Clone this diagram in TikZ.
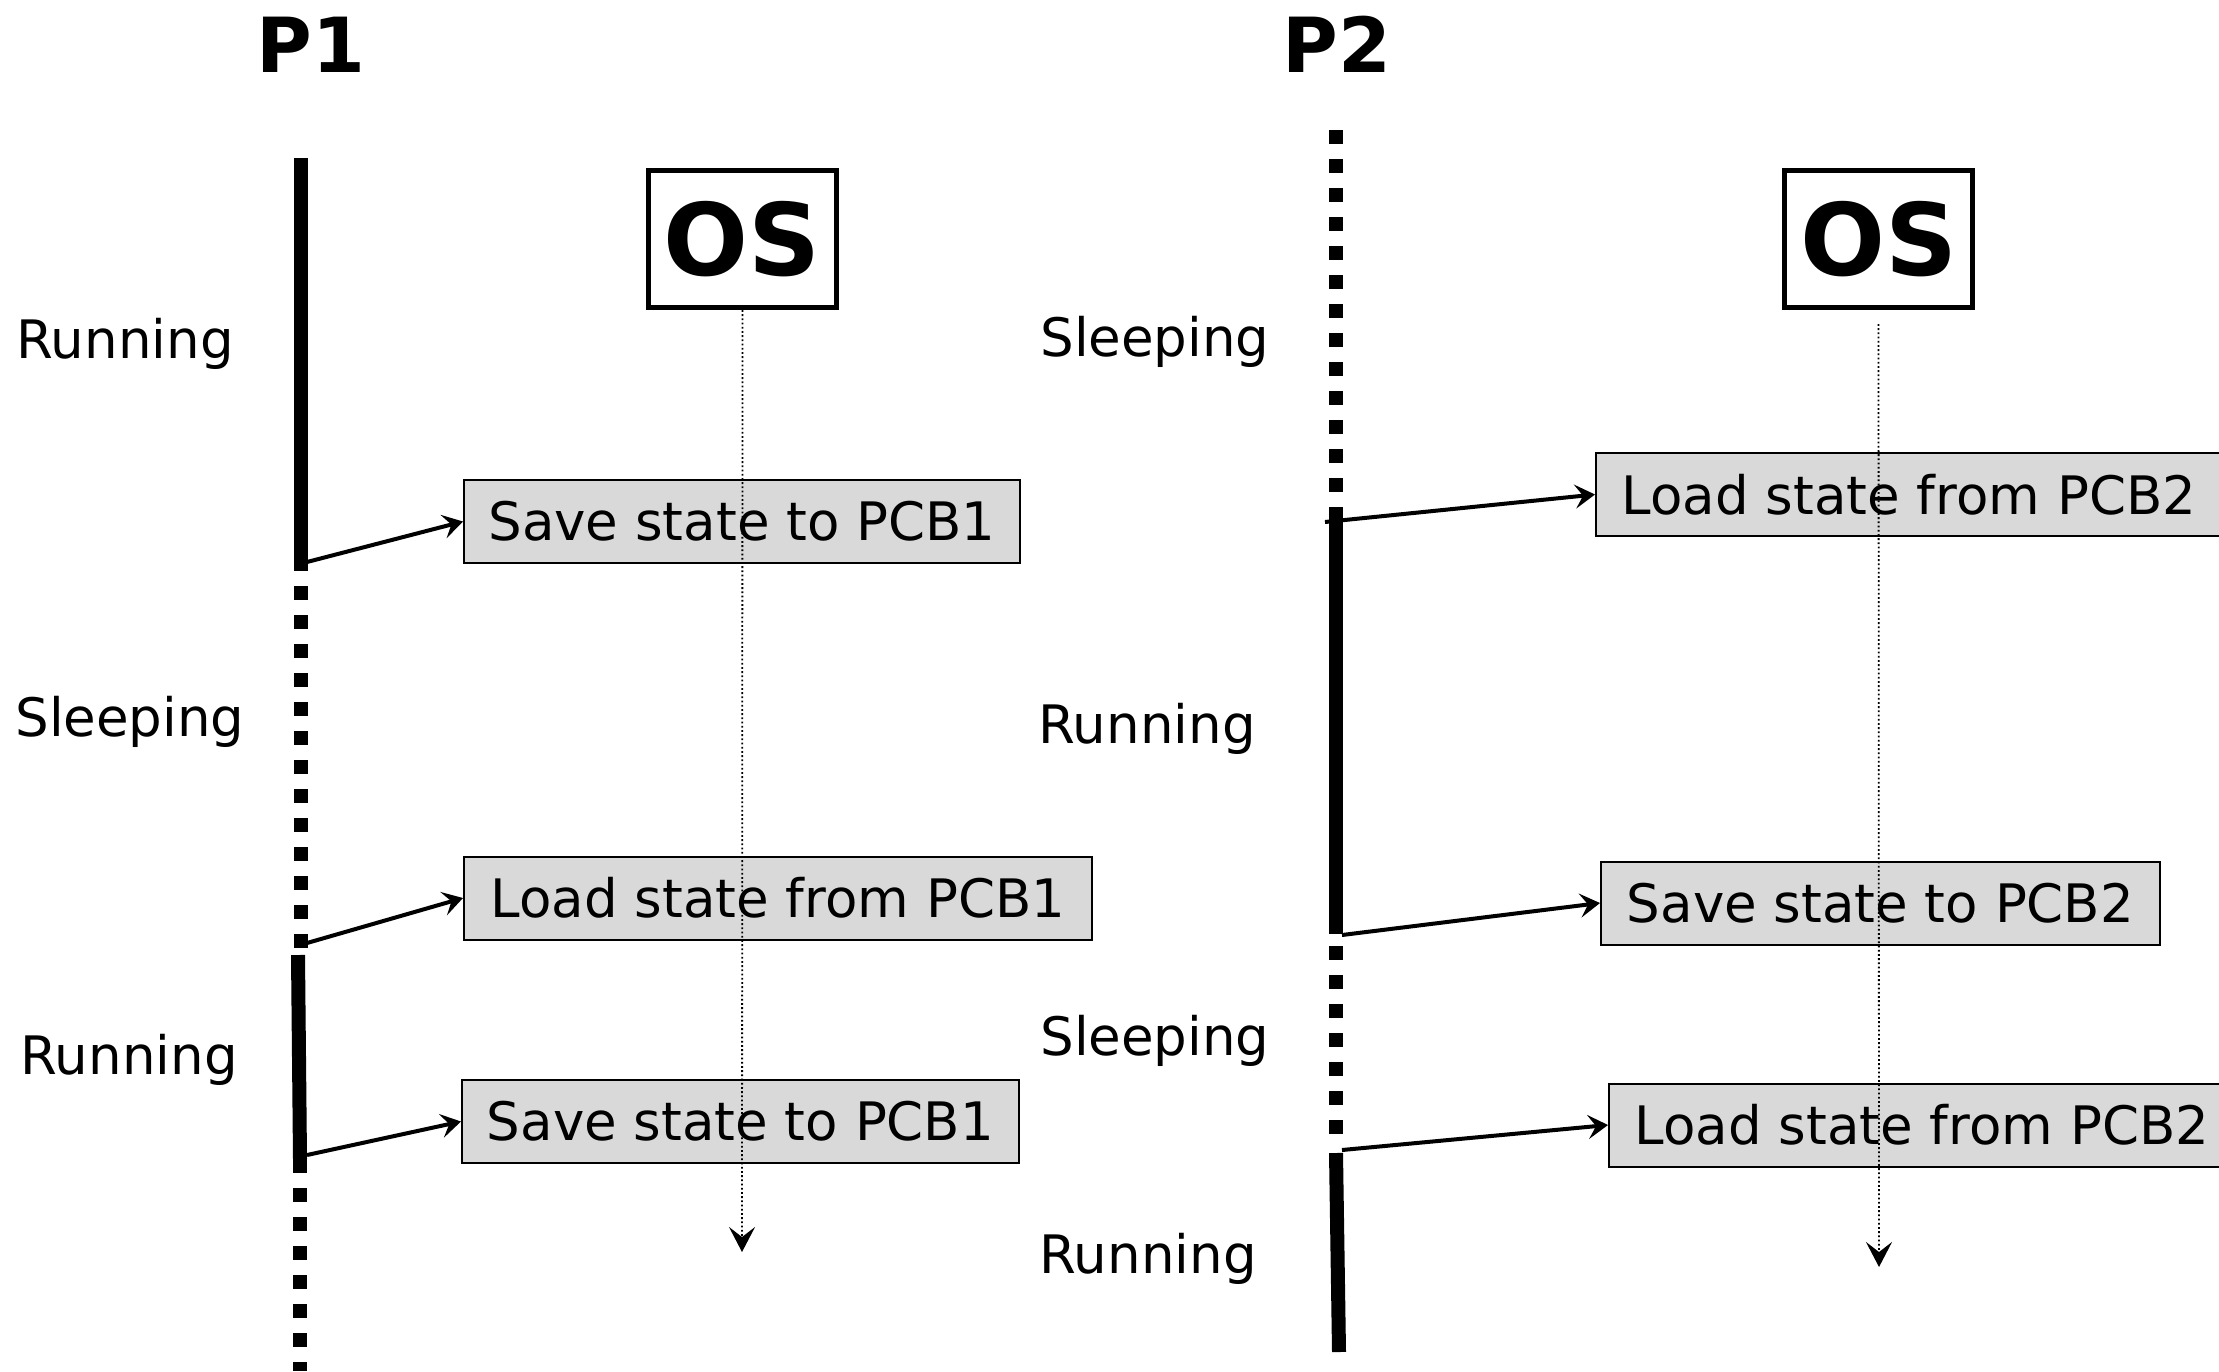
\documentclass[tikz,border=0pt]{standalone}
\usepackage{fontspec}
\setmainfont{DejaVu Sans}
\usetikzlibrary{arrows.meta}
\definecolor{boxgray}{HTML}{D9D9D9}
\tikzset{
  lbl/.style={font=\fontsize{26.5pt}{30pt}\selectfont, inner sep=0pt, anchor=base west},
  ptitle/.style={font=\bfseries\fontsize{38pt}{42pt}\selectfont, inner sep=0pt, anchor=base},
  osbox/.style={draw, line width=2.5pt, minimum width=94pt, minimum height=68.5pt, inner sep=0pt, font=\bfseries\fontsize{50pt}{54pt}\selectfont},
  pcb/.style={draw, fill=boxgray, line width=1pt, minimum height=41.5pt, inner sep=0pt, anchor=west, font=\fontsize{26.5pt}{30pt}\selectfont},
  runline/.style={line width=7pt},
  sleepline/.style={line width=7pt, dash pattern=on 7pt off 7.5pt},
  conn/.style={line width=2pt, -{Stealth[length=10pt,width=12pt,inset=4pt]}},
  osline/.style={line width=0.9pt, dash pattern=on 0.9pt off 1.2pt, -{Stealth[length=12.5pt,width=13pt,inset=5pt]}},
}
\begin{document}
\begin{tikzpicture}[x=0.5pt,y=-0.5pt]
\useasboundingbox (0,0) rectangle (2219,1371);
\clip (0,0) rectangle (2219,1371);
\fill[white] (0,0) rectangle (2219,1371);

% titles
\node[ptitle] (p1) at (311,72) {P1};
\node[ptitle] (p2) at (1337,72) {P2};

% OS boxes
\node[osbox] (os1) at (742.5,239) {OS};
\node[osbox] (os2) at (1878.5,239) {OS};

% P1 timeline
\coordinate (a1) at (301,158);
\coordinate (a2) at (301,564);
\coordinate (a3) at (301,557);
\coordinate (a4) at (301,948);
\coordinate (a5) at (298,955);
\coordinate (a6) at (300,1159);
\coordinate (a7) at (300,1159);
\coordinate (a8) at (300,1371);
\draw[runline] (a1) -- (a2);
\draw[sleepline] (a3) -- (a4);
\draw[runline] (a5) -- (a6);
\draw[sleepline] (a7) -- (a8);

% P2 timeline
\coordinate (b1) at (1336,130);
\coordinate (b2) at (1336,512);
\coordinate (b3) at (1336,511);
\coordinate (b4) at (1336,934);
\coordinate (b5) at (1336,946);
\coordinate (b6) at (1336,1137);
\coordinate (b7) at (1336,1153);
\coordinate (b8) at (1339,1352);
\draw[sleepline] (b1) -- (b2);
\draw[runline] (b3) -- (b4);
\draw[sleepline] (b5) -- (b6);
\draw[runline] (b7) -- (b8);

% state labels P1
\node[lbl] (r1) at (16,358) {Running};
\node[lbl] (s1) at (15,736) {Sleeping};
\node[lbl] (r2) at (20,1074) {Running};
% state labels P2
\node[lbl] (s2) at (1040,356) {Sleeping};
\node[lbl] (r3) at (1038,743) {Running};
\node[lbl] (s3) at (1040,1055) {Sleeping};
\node[lbl] (r4) at (1039,1273) {Running};

% PCB boxes
\node[pcb, minimum width=278pt] (k1) at (463,521.5) {Save state to PCB1};
\node[pcb, minimum width=314pt] (k2) at (463,898) {Load state from PCB1};
\node[pcb, minimum width=278.5pt] (k3) at (461,1121.5) {Save state to PCB1};
\node[pcb, minimum width=313pt] (k4) at (1595,494.5) {Load state from PCB2};
\node[pcb, minimum width=279.5pt] (k5) at (1600,903) {Save state to PCB2};
\node[pcb, minimum width=313pt] (k6) at (1608,1125) {Load state from PCB2};

% OS time lines (drawn over the boxes)
\coordinate (os1end) at (742,1252);
\coordinate (os2top) at (1878.5,324);
\coordinate (os2end) at (1879,1267);
\draw[osline] (os1.south) -- (os1end);
\draw[osline] (os2top) -- (os2end);

% connectors
\coordinate (c1) at (307,562);
\coordinate (c2) at (307,943);
\coordinate (c3) at (307,1155);
\coordinate (c4) at (1325,522);
\coordinate (c5) at (1342,935);
\coordinate (c6) at (1342,1150);
\draw[conn] (c1) -- (k1.west);
\draw[conn] (c2) -- (k2.west);
\draw[conn] (c3) -- (k3.west);
\draw[conn] (c4) -- (k4.west);
\draw[conn] (c5) -- (k5.west);
\draw[conn] (c6) -- (k6.west);
\end{tikzpicture}
\end{document}
